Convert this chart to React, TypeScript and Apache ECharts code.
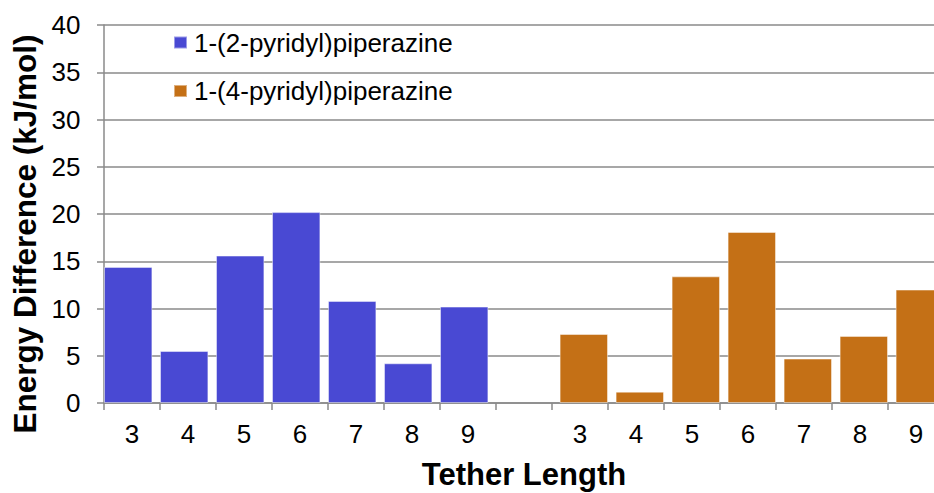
import React, { useEffect, useRef } from "react";
import * as echarts from "echarts";

const categories = ["3", "4", "5", "6", "7", "8", "9", "", "3", "4", "5", "6", "7", "8", "9"];
const series2Pyridyl = [14.4, 5.5, 15.6, 20.2, 10.8, 4.2, 10.2, "-", "-", "-", "-", "-", "-", "-", "-"];
const series4Pyridyl = ["-", "-", "-", "-", "-", "-", "-", "-", 7.3, 1.2, 13.4, 18.1, 4.7, 7.1, 12.0];
const seriesNames = ["1-(2-pyridyl)piperazine", "1-(4-pyridyl)piperazine"];
const yTicks = { min: 0, max: 40, interval: 5 };

const W = 934;
const H = 493;
const FONT = "Arial, 'Liberation Sans', sans-serif";

export default function App() {
  const ref = useRef<HTMLDivElement>(null);
  useEffect(() => {
    document.body.style.margin = "0";
    if (!ref.current) return;
    const chart = echarts.init(ref.current, undefined, { renderer: "svg", width: W, height: H });
    chart.setOption({
      animation: false,
      backgroundColor: "#ffffff",
      textStyle: { fontFamily: FONT },
      grid: {
        left: 104,
        right: -10,
        top: 25,
        bottom: 90,
        containLabel: false,
        outerBoundsMode: "none",
      },
      legend: {
        orient: "vertical",
        left: 173,
        top: 29.5,
        padding: 0,
        itemGap: 22.5,
        itemWidth: 13,
        itemHeight: 12,
        icon: "rect",
        data: seriesNames,
        textStyle: { fontSize: 26, color: "#000", fontFamily: FONT, padding: [0, 0, 0, 2] },
      },
      xAxis: {
        type: "category",
        data: categories,
        name: "Tether Length",
        nameLocation: "middle",
        nameGap: 56,
        nameTextStyle: { fontSize: 31, fontWeight: "bold", color: "#000", fontFamily: FONT },
        axisLine: { lineStyle: { color: "#8a8a8a", width: 1.5 } },
        axisTick: { show: true, length: 7, lineStyle: { color: "#8a8a8a", width: 1.5 } },
        axisLabel: { interval: 0, fontSize: 26, color: "#000", margin: 18, fontFamily: FONT },
        splitLine: { show: false },
      },
      yAxis: {
        type: "value",
        min: yTicks.min,
        max: yTicks.max,
        interval: yTicks.interval,
        name: "Energy Difference (kJ/mol)",
        nameLocation: "middle",
        nameGap: 62,
        nameTextStyle: {
          fontSize: 31.5,
          fontWeight: "bold",
          color: "#000",
          fontFamily: FONT,
          padding: [0, 40, 0, 0],
        },
        axisLine: { show: true, lineStyle: { color: "#8a8a8a", width: 1.5 } },
        axisTick: { show: true, length: 7, lineStyle: { color: "#8a8a8a", width: 1.5 } },
        axisLabel: { fontSize: 26, color: "#000", margin: 23.5, fontFamily: FONT },
        splitLine: { show: true, lineStyle: { color: "#8a8a8a", width: 1.5 } },
      },
      series: [
        {
          name: seriesNames[0],
          type: "bar",
          data: series2Pyridyl,
          barWidth: "86.4%",
          barGap: "-84.3%",
          itemStyle: { color: "#4949D3", borderColor: "rgba(255,255,255,0.45)", borderWidth: 1 },
        },
        {
          name: seriesNames[1],
          type: "bar",
          data: series4Pyridyl,
          barWidth: "86.4%",
          barGap: "-84.3%",
          itemStyle: { color: "#C47016", borderColor: "rgba(255,255,255,0.45)", borderWidth: 1 },
        },
      ],
    });
    return () => chart.dispose();
  }, []);
  return <div ref={ref} style={{ width: W, height: H, overflow: "hidden", background: "#fff" }} />;
}
